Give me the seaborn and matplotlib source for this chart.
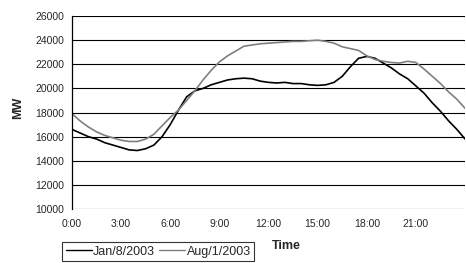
import numpy as np
import pandas as pd
import matplotlib
matplotlib.use("Agg")
import matplotlib.pyplot as plt
import seaborn as sns
from matplotlib.lines import Line2D

hours = [i * 0.5 for i in range(49)]
jan = [16600, 16300, 16000, 15800, 15500, 15300, 15100, 14900, 14850, 15000,
       15300, 16000, 17000, 18200, 19300, 19800, 20000, 20300, 20500, 20700,
       20800, 20850, 20800, 20600, 20500, 20450, 20500, 20400, 20400, 20300,
       20250, 20300, 20500, 21000, 21800, 22500, 22650, 22500, 22100, 21700,
       21200, 20800, 20200, 19600, 18800, 18100, 17300, 16600, 15800]
aug = [17900, 17300, 16800, 16400, 16100, 15900, 15700, 15600, 15600, 15800,
       16200, 16900, 17600, 18200, 19000, 19800, 20700, 21500, 22200, 22700,
       23100, 23500, 23600, 23700, 23750, 23800, 23850, 23900, 23900, 23950,
       24000, 23900, 23750, 23450, 23300, 23150, 22700, 22400, 22250, 22150,
       22100, 22250, 22150, 21600, 21000, 20400, 19700, 19100, 18350]
series_names = ["Jan/8/2003", "Aug/1/2003"]
x_ticks = [0, 3, 6, 9, 12, 15, 18, 21, 24]
x_labels = ["0:00", "3:00", "6:00", "9:00", "12:00", "15:00", "18:00", "21:00", ""]
y_ticks = [10000, 12000, 14000, 16000, 18000, 20000, 22000, 24000, 26000]

df = pd.concat([
    pd.DataFrame({"t": hours, "MW": jan, "series": series_names[0]}),
    pd.DataFrame({"t": hours, "MW": aug, "series": series_names[1]}),
])

sns.set_style("white")
plt.rcParams["font.family"] = ["Liberation Sans", "DejaVu Sans"]

fig = plt.figure(figsize=(4.66, 2.63), dpi=100)
ax = fig.add_axes([0.1545, 0.2053, 0.8435, 0.7337])

for y in y_ticks:
    ax.axhline(y, color="black", lw=0.8, zorder=0)

sns.lineplot(data=df, x="t", y="MW", hue="series", palette=["black", "#7f7f7f"],
             linewidth=1.2, ax=ax, legend=False)

ax.set_xlim(0, 24)
ax.set_ylim(10000, 26000)
ax.set_xticks(x_ticks)
ax.set_xticklabels(x_labels)
ax.set_yticks(y_ticks)
ax.tick_params(axis="both", labelsize=7.5, direction="out", length=3.5, width=0.8,
               color="black", pad=2)
ax.tick_params(axis="x", pad=4)
for s in ["top", "right", "bottom"]:
    ax.spines[s].set_visible(False)
ax.spines["left"].set_color("black")
ax.spines["left"].set_linewidth(0.9)
ax.set_xlabel("")
ax.set_ylabel("")

fig.text(0.039, 0.59, "MW", rotation=90, fontsize=9, fontweight="bold",
         ha="center", va="center")
fig.text(0.584, 0.065, "Time", fontsize=9, fontweight="bold", ha="left", va="center")

handles = [Line2D([], [], color="black", lw=1.0), Line2D([], [], color="#7f7f7f", lw=1.0)]
leg = fig.legend(handles, series_names, loc="upper left", bbox_to_anchor=(0.133, 0.08),
                 ncol=2, fontsize=9, frameon=True, fancybox=False, handlelength=2.1,
                 handletextpad=0.1, columnspacing=0.3, borderpad=0.3, borderaxespad=0)
leg.get_frame().set_edgecolor("black")
leg.get_frame().set_linewidth(0.8)

fig.savefig("out.png", dpi=100)
